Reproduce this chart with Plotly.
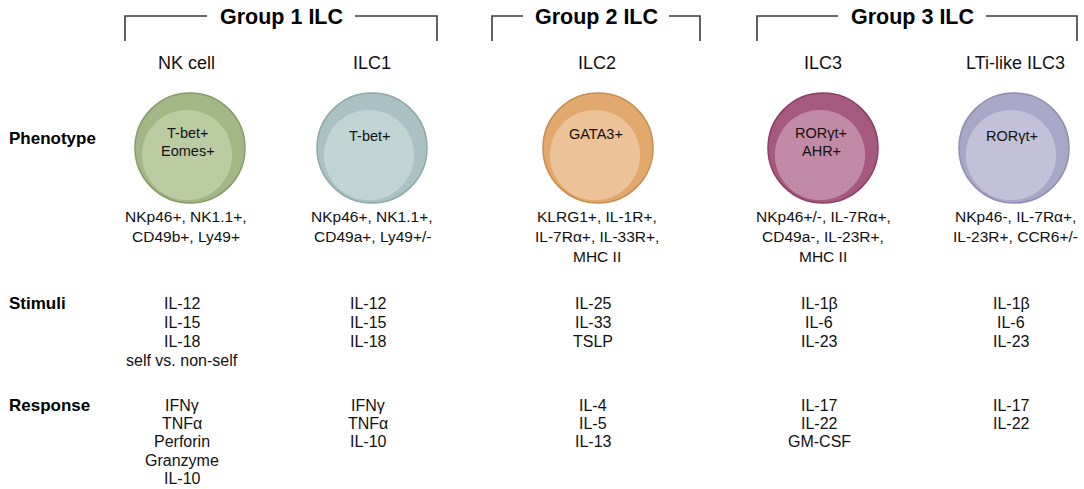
import plotly.graph_objects as go

# cell types and what is written in / under each circle
CELLS = ["NK cell", "ILC1", "ILC2", "ILC3", "LTi-like ILC3"]
INNER = [["T-bet+", "Eomes+"], ["T-bet+"], ["GATA3+"], ["RORγt+", "AHR+"], ["RORγt+"]]
PHENOTYPE = [
    ["NKp46+, NK1.1+,", "CD49b+, Ly49+"],
    ["NKp46+, NK1.1+,", "CD49a+, Ly49+/-"],
    ["KLRG1+, IL-1R+,", "IL-7Rα+, IL-33R+,", "MHC II"],
    ["NKp46+/-, IL-7Rα+,", "CD49a-, IL-23R+,", "MHC II"],
    ["NKp46-, IL-7Rα+,", "IL-23R+, CCR6+/-"],
]
STIMULI = [
    ["IL-12", "IL-15", "IL-18", "self vs. non-self"],
    ["IL-12", "IL-15", "IL-18"],
    ["IL-25", "IL-33", "TSLP"],
    ["IL-1β", "IL-6", "IL-23"],
    ["IL-1β", "IL-6", "IL-23"],
]
RESPONSE = [
    ["IFNγ", "TNFα", "Perforin", "Granzyme", "IL-10"],
    ["IFNγ", "TNFα", "IL-10"],
    ["IL-4", "IL-5", "IL-13"],
    ["IL-17", "IL-22", "GM-CSF"],
    ["IL-17", "IL-22"],
]
ROW_LABELS = ["Phenotype", "Stimuli", "Response"]
GROUPS = ["Group 1 ILC", "Group 2 ILC", "Group 3 ILC"]

OUTER_COLORS = ["#a3b786", "#aac2c3", "#e1a96e", "#a6597f", "#a8a7c7"]
INNER_COLORS = ["#bccca2", "#c0d4d4", "#ecc398", "#c18ba7", "#c2c1d9"]
EDGE_COLORS = ["#869c66", "#8ea8a9", "#c98d4e", "#8a3f66", "#8f8eb2"]

# layout (pixel-like axis units, y grows downward)
W, H = 1084, 489
COL_X = [186, 372, 597, 823, 1015]
CIRCLE_X = [190, 372, 598, 823, 1014]
LIST_DX = -4
NAME_Y = 63
CIRCLE_Y = 148
R = 55
INNER_Y = [[133, 151], [136], [134], [133, 151], [136]]
PHENO_Y, PHENO_STEP = 216, 20
STIM_Y, STIM_STEP = 303, 19.2
RESP_Y, RESP_STEP = 405, 18.4
ROW_Y = [138, 303, 405]
BRACKETS = [(125, 437), (492, 700), (757, 1077)]
TITLE_X = [281, 596, 912]
TITLE_HALF = [74, 73, 74]
BRACKET_TOP, BRACKET_BOT = 16, 41

FONT = "Liberation Sans, Arial, sans-serif"
TEXT_COLOR = "#111111"

fig = go.Figure()
shapes = []
annotations = []


def add_text(x, y, text, size, bold=False, xanchor="center", color=TEXT_COLOR):
    if bold:
        text = f"<b>{text}</b>"
    annotations.append(dict(x=x, y=y, text=text, xanchor=xanchor,
                            font=dict(size=size, family=FONT, color=color)))


# brackets with group titles
for (x0, x1), tx, half, title in zip(BRACKETS, TITLE_X, TITLE_HALF, GROUPS):
    line = dict(color="#3a3a3a", width=1.6)
    shapes.append(dict(type="path",
                       path=f"M {x0},{BRACKET_BOT} L {x0},{BRACKET_TOP} L {tx - half},{BRACKET_TOP}",
                       line=line, xref="x", yref="y"))
    shapes.append(dict(type="path",
                       path=f"M {tx + half},{BRACKET_TOP} L {x1},{BRACKET_TOP} L {x1},{BRACKET_BOT}",
                       line=line, xref="x", yref="y"))
    add_text(tx, BRACKET_TOP + 1, title, 21.5, bold=True, color="#000000")

for i, cx in enumerate(COL_X):
    # outer and inner circle
    ox = CIRCLE_X[i]
    shapes.append(dict(type="circle", xref="x", yref="y",
                       x0=ox - R, x1=ox + R, y0=CIRCLE_Y - R, y1=CIRCLE_Y + R,
                       fillcolor=OUTER_COLORS[i], line=dict(color=EDGE_COLORS[i], width=1.5)))
    r2 = R * 0.82
    ix, iy = ox - 3, CIRCLE_Y + 7
    shapes.append(dict(type="circle", xref="x", yref="y",
                       x0=ix - r2, x1=ix + r2, y0=iy - r2, y1=iy + r2,
                       fillcolor=INNER_COLORS[i], line=dict(width=0)))

    add_text(cx, NAME_Y, CELLS[i], 18)
    for txt, y in zip(INNER[i], INNER_Y[i]):
        add_text(ox - 2, y, txt, 14.5)
    for k, txt in enumerate(PHENOTYPE[i]):
        add_text(cx, PHENO_Y + k * PHENO_STEP, txt, 15.5)
    for k, txt in enumerate(STIMULI[i]):
        add_text(cx + LIST_DX, STIM_Y + k * STIM_STEP, txt, 16)
    for k, txt in enumerate(RESPONSE[i]):
        add_text(cx + LIST_DX, RESP_Y + k * RESP_STEP, txt, 16)

for label, ly in zip(ROW_LABELS, ROW_Y):
    add_text(7, ly, label, 17, bold=True, xanchor="left", color="#000000")

for a in annotations:
    a.update(xref="x", yref="y", showarrow=False, yanchor="middle", align="center")

fig.update_layout(
    width=W, height=H,
    margin=dict(l=0, r=0, t=0, b=0),
    paper_bgcolor="white", plot_bgcolor="white",
    xaxis=dict(range=[0, W], visible=False, fixedrange=True),
    yaxis=dict(range=[H, 0], visible=False, fixedrange=True),
    shapes=shapes, annotations=annotations,
    showlegend=False,
)

# the page's default 8px body margin would push the figure off the window
fig.write_html("out.html", config={"displayModeBar": False},
               post_script="document.body.style.margin='0';")
